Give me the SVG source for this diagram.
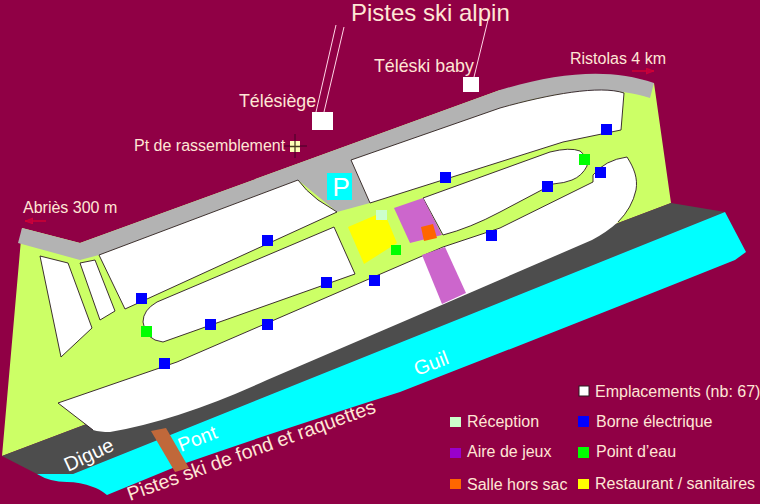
<svg xmlns="http://www.w3.org/2000/svg" width="760" height="504" viewBox="0 0 760 504">
<style>
text{font-family:"Liberation Sans",Arial,sans-serif;fill:#ffe6d5}
.w{fill:#fff;stroke:#2a1a20;stroke-width:.9}
.b{fill:#0000ff}
.g{fill:#00ff00}
.l{font-size:16px}
.t{stroke:#ffd5e5;stroke-width:1;fill:none}
.a{stroke:#e00030;stroke-width:1.200;fill:none;marker-end:url(#h)}
</style>
<defs>
<marker id="h" markerUnits="userSpaceOnUse" markerWidth="9" markerHeight="7" refX="8" refY="3" orient="auto"><path d="M0,0L8,3L0,6Z" fill="#c00040" stroke="#e00030" stroke-width=".6"/></marker>
</defs>
<rect width="760" height="504" fill="#900045"/>
<g id="terrain">
<path d="M22,228L80,243L500,90L654,83L671,203L2,456Z" fill="#ccff66"/>
<path d="M22,228L80,243L500,90C560,72 610,68 654,83L650,98C610,85 560,90 500,108L351,160L370,203L337,212L298,180L99,255L80,260L18,243Z" fill="#b3b3b3"/>
<path d="M2,456L671,203L725,212L73,474L37,474Z" fill="#4d4d4d"/>
<path d="M37,474L73,474L725,212L746,252L735,260Q560,330 400,392Q280,430 180,465L107,495Q98,488 93,487Q80,482 67,482Q50,482 37,474Z" fill="#00ffff"/>
</g>
<g id="emplacements">
<path class="w" d="M40,256L68,263L92,328L61,357Z"/>
<path class="w" d="M80,263L95,260L115,311L100,320Z"/>
<path class="w" d="M99,255L298,180Q305,190 318,200L337,212L147,299L125,309Z"/>
<path class="w" d="M334,227L157,302Q143,310 143,322Q145,340 163,342L355,274Z"/>
<path class="w" d="M351,160L500,108C550,94 600,85 624,93L621,130L563,142L370,203Z"/>
<path class="w" d="M423,198L550,152Q570,147 580,151Q588,157 587,166Q582,176 572,180Q565,183 553,184L500,212Q470,228 443,235Z"/>
<path d="M58,403L177,362L443,247L500,228L593,182L593,175Q605,160 627,157C634,168 638,178 636,190Q632,208 618,222Q607,232 592,240L407,320L267,380Q180,420 110,432Q100,432 93,430Z" fill="#fff"/>
<path d="M93,430L58,403L177,362L443,247L500,228L593,182L593,175Q605,160 627,157C634,168 638,178 636,190Q632,208 618,222" fill="none" stroke="#2a1a20" stroke-width=".9"/>
</g>
<g id="aire-de-jeux">
<path d="M394,208L423,198L442,235L410,243Z" fill="#cc66cc"/>
<path d="M422,255L445,247L466,293L442,304Z" fill="#cc66cc"/>
</g>
<g id="restaurant"><path d="M348,227L376,215L387,219L397,243L364,264Z" fill="#ffff00"/></g>
<g id="reception"><rect x="376" y="210" width="11" height="10" fill="#ccffcc"/></g>
<g id="salle"><path d="M421,227L433,224L437,238L424,241Z" fill="#ff6600"/></g>
<g id="parking"><rect x="327" y="173" width="25" height="27" fill="#00ffff"/><text x="332.500" y="196" font-size="26" style="fill:#fff">P</text></g>
<g id="pont"><path d="M151,431L166,428L189,468L175,472Z" fill="#c0683a"/></g>
<g id="bornes" class="b">
<rect x="601" y="124" width="11" height="11"/><rect x="440" y="172" width="11" height="11"/><rect x="595" y="167" width="11" height="11"/><rect x="542" y="181" width="11" height="11"/><rect x="262" y="235" width="11" height="11"/><rect x="486" y="230" width="11" height="11"/><rect x="136" y="293" width="11" height="11"/><rect x="321" y="277" width="11" height="11"/><rect x="369" y="275" width="11" height="11"/><rect x="205" y="319" width="11" height="11"/><rect x="262" y="319" width="11" height="11"/><rect x="159" y="358" width="11" height="11"/>
</g>
<g id="points-eau" class="g">
<rect x="579" y="154" width="11" height="11"/><rect x="391" y="245" width="10" height="10"/><rect x="141" y="326" width="11" height="11"/>
</g>
<g id="telesiege">
<path class="t" d="M336,25L316,112M344,27L324,112"/>
<rect x="312" y="112" width="21" height="18" fill="#fff"/>
<text x="239" y="107" font-size="17.800">Télésiège</text>
</g>
<g id="teleski">
<path class="t" d="M488,20L474,77"/>
<rect x="463" y="77" width="16" height="15" fill="#fff"/>
<text x="374" y="72" font-size="17.800">Téléski baby</text>
</g>
<g id="rassemblement">
<path d="M295,134V158M284,146H307" stroke="#5c0030" stroke-width="1.500" fill="none"/>
<rect x="290" y="141" width="10" height="11" fill="#ffffb8"/>
<path d="M295,141V152M290,146.500H300" stroke="#4a3a20" stroke-width="1.300" fill="none"/>
<text x="134" y="151" font-size="16">Pt de rassemblement</text>
</g>
<g id="labels">
<text x="351" y="21" font-size="24">Pistes ski alpin</text>
<text x="570" y="64" font-size="16">Ristolas 4 km</text>
<path class="a" d="M632,71H654"/>
<text x="23" y="213" font-size="16">Abriès 300 m</text>
<path class="a" d="M46,221H25"/>
<text transform="translate(68,472) rotate(-25)" font-size="20" style="fill:#fff">Digue</text>
<text transform="translate(181,452) rotate(-21)" font-size="19.500" style="fill:#fff">Pont</text>
<text transform="translate(417,376) rotate(-21)" font-size="20" style="fill:#fff">Guil</text>
<text transform="translate(130,501) rotate(-19.800)" font-size="19.600">Pistes ski de fond et raquettes</text>
</g>
<g id="legende">
<rect x="579" y="386" width="10" height="10" fill="#fff" stroke="#2a1a20"/><text class="l" x="595" y="397">Emplacements (nb: 67)</text>
<rect x="450" y="417" width="11" height="10" fill="#ccffcc"/><text class="l" x="467" y="427">Réception</text>
<rect x="578" y="416" width="11" height="11" class="b"/><text class="l" x="596" y="427">Borne électrique</text>
<rect x="450" y="448" width="11" height="10" fill="#9900cc"/><text class="l" x="467" y="457">Aire de jeux</text>
<rect x="578" y="447" width="11" height="11" class="g"/><text class="l" x="596" y="457">Point d’eau</text>
<rect x="450" y="479" width="11" height="10" fill="#ff6600"/><text class="l" x="467" y="490">Salle hors sac</text>
<rect x="578" y="479" width="11" height="10" fill="#ffff00"/><text class="l" x="595" y="489">Restaurant / sanitaires</text>
</g>
</svg>
